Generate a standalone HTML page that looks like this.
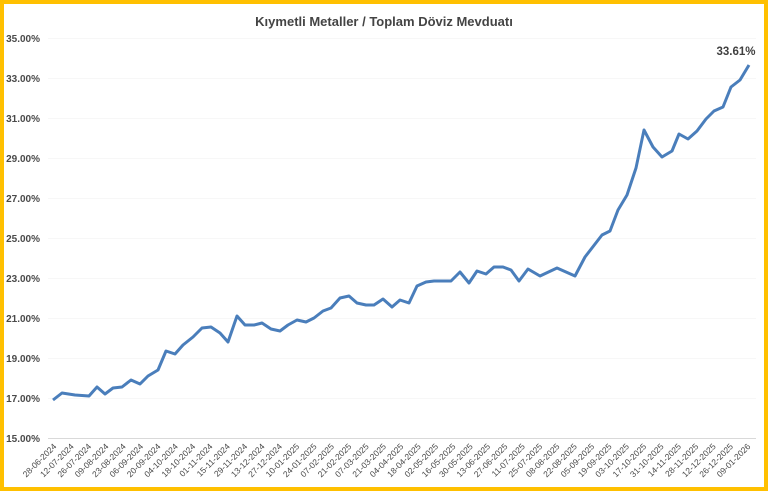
<!DOCTYPE html>
<html><head><meta charset="utf-8"><style>
html,body{margin:0;padding:0;background:#fff;}
svg{display:block;font-family:"Liberation Sans",sans-serif;}
</style></head><body>
<svg width="768" height="491" viewBox="0 0 768 491" xmlns="http://www.w3.org/2000/svg">
<rect x="0" y="0" width="768" height="491" fill="#FFC000"/>
<rect x="4" y="4" width="760" height="483" fill="#fff"/>
<text x="384" y="26" text-anchor="middle" font-size="13" font-weight="bold" fill="#444">Kıymetli Metaller / Toplam Döviz Mevduatı</text>
<g stroke="#f7f7f7" stroke-width="1">
<line x1="48" y1="38.5" x2="756" y2="38.5"/><line x1="48" y1="78.5" x2="756" y2="78.5"/><line x1="48" y1="118.5" x2="756" y2="118.5"/><line x1="48" y1="158.5" x2="756" y2="158.5"/><line x1="48" y1="198.5" x2="756" y2="198.5"/><line x1="48" y1="238.5" x2="756" y2="238.5"/><line x1="48" y1="278.5" x2="756" y2="278.5"/><line x1="48" y1="318.5" x2="756" y2="318.5"/><line x1="48" y1="358.5" x2="756" y2="358.5"/><line x1="48" y1="398.5" x2="756" y2="398.5"/>
</g>
<line x1="48" y1="438.5" x2="756" y2="438.5" stroke="#d9d9d9"/>
<g font-size="10" font-weight="bold" fill="#4a4a4a" text-anchor="end">
<text x="40" y="42">35.00%</text><text x="40" y="82">33.00%</text><text x="40" y="122">31.00%</text><text x="40" y="162">29.00%</text><text x="40" y="202">27.00%</text><text x="40" y="242">25.00%</text><text x="40" y="282">23.00%</text><text x="40" y="322">21.00%</text><text x="40" y="362">19.00%</text><text x="40" y="402">17.00%</text><text x="40" y="442">15.00%</text>
</g>
<polyline fill="none" stroke="#4A7EBB" stroke-width="3" stroke-linejoin="round" points="53,400 62,393 75,395 89,396 97,387 105,394 113,388 122,387 131,380 140,384 148,376 158,370 166,351 175,354 183,345 193,337 202,328 211,327 220,333 228,342 237,316 245,325 254,325 262,323 271,329 280,331 288,325 297,320 306,322 314,318 323,311 331,308 340,298 349,296 357,303 366,305 374,305 383,299 392,307 400,300 409,303 417,286 426,282 434,281 443,281 451,281 460,272 469,283 477,271 486,274 494,267 503,267 511,270 519,281 528,269 540,276 557,268 575,276 585,257 602,235 610,231 618,210 627,195 636,168 644,130 653,147 662,157 672,151 679,134 688,139 697,131 706,119 714,111 723,107 731,87 740,80 749,65"/>
<text x="736" y="55" text-anchor="middle" font-size="11.5" font-weight="bold" fill="#404040">33.61%</text>
<g font-size="8.5" fill="#4a4a4a" text-anchor="end">
<text transform="translate(57,447) rotate(-45)">28-06-2024</text>
<text transform="translate(74.35,447) rotate(-45)">12-07-2024</text>
<text transform="translate(91.7,447) rotate(-45)">26-07-2024</text>
<text transform="translate(109.05,447) rotate(-45)">09-08-2024</text>
<text transform="translate(126.4,447) rotate(-45)">23-08-2024</text>
<text transform="translate(143.75,447) rotate(-45)">06-09-2024</text>
<text transform="translate(161.1,447) rotate(-45)">20-09-2024</text>
<text transform="translate(178.45,447) rotate(-45)">04-10-2024</text>
<text transform="translate(195.8,447) rotate(-45)">18-10-2024</text>
<text transform="translate(213.15,447) rotate(-45)">01-11-2024</text>
<text transform="translate(230.5,447) rotate(-45)">15-11-2024</text>
<text transform="translate(247.85,447) rotate(-45)">29-11-2024</text>
<text transform="translate(265.2,447) rotate(-45)">13-12-2024</text>
<text transform="translate(282.55,447) rotate(-45)">27-12-2024</text>
<text transform="translate(299.9,447) rotate(-45)">10-01-2025</text>
<text transform="translate(317.25,447) rotate(-45)">24-01-2025</text>
<text transform="translate(334.6,447) rotate(-45)">07-02-2025</text>
<text transform="translate(351.95,447) rotate(-45)">21-02-2025</text>
<text transform="translate(369.3,447) rotate(-45)">07-03-2025</text>
<text transform="translate(386.65,447) rotate(-45)">21-03-2025</text>
<text transform="translate(404,447) rotate(-45)">04-04-2025</text>
<text transform="translate(421.35,447) rotate(-45)">18-04-2025</text>
<text transform="translate(438.7,447) rotate(-45)">02-05-2025</text>
<text transform="translate(456.05,447) rotate(-45)">16-05-2025</text>
<text transform="translate(473.4,447) rotate(-45)">30-05-2025</text>
<text transform="translate(490.75,447) rotate(-45)">13-06-2025</text>
<text transform="translate(508.1,447) rotate(-45)">27-06-2025</text>
<text transform="translate(525.45,447) rotate(-45)">11-07-2025</text>
<text transform="translate(542.8,447) rotate(-45)">25-07-2025</text>
<text transform="translate(560.15,447) rotate(-45)">08-08-2025</text>
<text transform="translate(577.5,447) rotate(-45)">22-08-2025</text>
<text transform="translate(594.85,447) rotate(-45)">05-09-2025</text>
<text transform="translate(612.2,447) rotate(-45)">19-09-2025</text>
<text transform="translate(629.55,447) rotate(-45)">03-10-2025</text>
<text transform="translate(646.9,447) rotate(-45)">17-10-2025</text>
<text transform="translate(664.25,447) rotate(-45)">31-10-2025</text>
<text transform="translate(681.6,447) rotate(-45)">14-11-2025</text>
<text transform="translate(698.95,447) rotate(-45)">28-11-2025</text>
<text transform="translate(716.3,447) rotate(-45)">12-12-2025</text>
<text transform="translate(733.65,447) rotate(-45)">26-12-2025</text>
<text transform="translate(751,447) rotate(-45)">09-01-2026</text>
</g>
</svg>
</body></html>
